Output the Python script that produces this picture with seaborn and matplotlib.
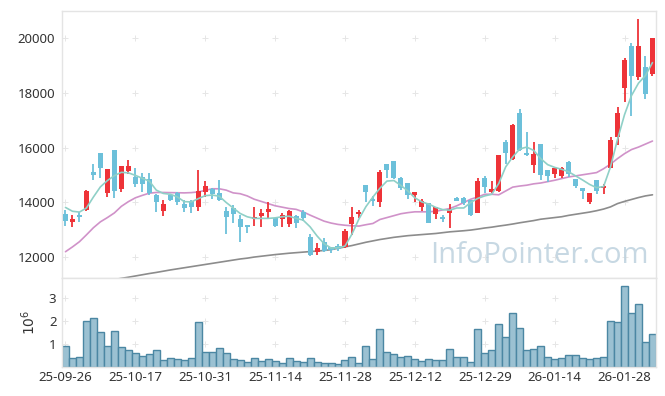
import numpy as np
import pandas as pd
import matplotlib
matplotlib.use("Agg")
import matplotlib.pyplot as plt
import seaborn as sns

# daily OHLC (KRW)
opens = [13570, 13300, 13540, 13720, 15100, 15790, 14350, 15900, 14480, 15160,
         14930, 14930, 14870, 14270, 13680, 14270, 14350, 13940, 14050, 13840,
         14390, 14485, 14330, 13690, 13790, 13400, 13175, 13380, 13500, 13650,
         13420, 13405, 13210, 13500, 13660, 12730, 12205, 12555, 12390, 12410,
         12390, 13210, 13575, 14630, 14120, 14000, 15395, 15500, 14910, 14700,
         14265, 13840, 13990, 13565, 13470, 13600, 14160, 14170, 14085, 13620,
         14910, 14365, 14420, 16205, 15600, 17260, 15805, 15357, 16130, 15175,
         15055, 14970, 15465, 14840, 14545, 14020, 14810, 14510, 15270, 16385,
         18170, 19720, 18570, 18955, 18690]
highs = [13720, 13540, 13660, 14450, 15420, 15790, 15210, 15900, 15330, 15560,
         15240, 15070, 15070, 14300, 14080, 14290, 14390, 14080, 14080, 15200,
         14775, 14545, 14810, 13850, 13900, 13540, 13190, 13840, 13745, 14010,
         13430, 13600, 13720, 13540, 13720, 12850, 12510, 12710, 12390, 12500,
         13020, 13840, 13720, 14630, 14230, 15175, 15420, 15500, 14930, 14725,
         14365, 14145, 13990, 13840, 13540, 13950, 14200, 14205, 14085, 14875,
         14955, 14785, 15720, 16290, 16870, 17420, 16570, 16205, 16145, 15175,
         15290, 15290, 15500, 14840, 14545, 14350, 14810, 14690, 16385, 17475,
         19260, 19800, 20690, 19355, 20000]
lows = [13140, 13110, 13300, 13700, 14810, 14910, 14200, 14150, 14380, 15050,
        14570, 14370, 14270, 13640, 13500, 14050, 13900, 13640, 13600, 13690,
        14200, 14110, 14050, 12840, 13270, 12565, 12870, 13140, 13110, 13380,
        13120, 13090, 13110, 13055, 13330, 12060, 12085, 12180, 12150, 12230,
        12330, 12810, 13420, 14000, 13865, 13840, 14875, 14850, 14450, 14110,
        14020, 13695, 13260, 13380, 13300, 13055, 14040, 13900, 13520, 13600,
        14350, 14330, 14380, 15395, 15540, 15880, 15700, 15075, 14837, 14750,
        14875, 14875, 14930, 14510, 14110, 13940, 14325, 14325, 15240, 16085,
        17660, 17140, 18450, 17780, 18615]
closes = [13330, 13390, 13480, 14410, 15010, 15260, 15210, 14420, 15330, 15330,
          14670, 14680, 14330, 14020, 13930, 14085, 14020, 13805, 13840, 14410,
          14600, 14300, 14085, 13470, 13590, 13115, 13115, 13455, 13620, 13770,
          13150, 13540, 13695, 13260, 13420, 12085, 12330, 12240, 12265, 12290,
          12970, 13455, 13660, 14385, 14050, 15115, 15175, 14895, 14510, 14290,
          14365, 14050, 13260, 13820, 13380, 13780, 14060, 13965, 13540, 14785,
          14570, 14485, 15720, 15805, 16810, 15930, 15730, 15757, 14995, 14970,
          15270, 15270, 15055, 14605, 14410, 14350, 14420, 14590, 16265, 17270,
          19200, 18605, 19720, 17965, 20000]

# moving averages
ma_short = [13820, 13680, 13650, 13800, 14200, 14570, 14800, 14980, 15100, 15080,
            14990, 14880, 14780, 14450, 14330, 14300, 14205, 14030, 14020, 14140,
            14250, 14270, 14230, 14000, 13800, 13600, 13480, 13420, 13420, 13420,
            13440, 13480, 13500, 13420, 13360, 13115, 12780, 12500, 12340, 12350,
            12410, 12850, 13400, 13850, 14200, 14520, 14780, 14800, 14620, 14420,
            14170, 14020, 13940, 13820, 13740, 13720, 13800, 13800, 14000, 14150,
            14240, 14300, 14690, 15300, 15660, 15950, 16020, 15900, 15600, 15380,
            15280, 15210, 15120, 14970, 14820, 14660, 14540, 14580, 15300, 16300,
            17200, 17900, 18350, 18630, 19100]
ma_mid = [12205, 12380, 12570, 12820, 13080, 13295, 13450, 13620, 13860, 14030,
          14170, 14260, 14340, 14365, 14365, 14360, 14355, 14350, 14360, 14385,
          14440, 14500, 14500, 14450, 14350, 14320, 14240, 14120, 14040, 13960,
          13880, 13830, 13780, 13750, 13660, 13540, 13430, 13320, 13250, 13200,
          13170, 13150, 13140, 13190, 13235, 13380, 13450, 13520, 13590, 13630,
          13660, 13660, 13660, 13680, 13730, 13780, 13880, 14000, 14120, 14200,
          14300, 14300, 14280, 14420, 14560, 14600, 14630, 14680, 14710, 14760,
          14810, 14870, 14930, 14970, 15010, 15050, 15090, 15230, 15400, 15600,
          15780, 15930, 16020, 16130, 16240]
ma_long = [np.nan] * 7 + [
           11190, 11235, 11275, 11320, 11365, 11410, 11450, 11495, 11540, 11580,
           11620, 11660, 11700, 11740, 11780, 11820, 11860, 11900, 11940, 11970,
           12010, 12040, 12070, 12100, 12125, 12150, 12170, 12190, 12210, 12230,
           12250, 12280, 12330, 12380, 12430, 12490, 12550, 12600, 12650, 12690,
           12730, 12760, 12790, 12810, 12830, 12850, 12870, 12900, 12930, 12950,
           12970, 12995, 13030, 13070, 13100, 13140, 13175, 13215, 13260, 13300,
           13340, 13390, 13420, 13450, 13480, 13530, 13570, 13610, 13650, 13700,
           13760, 13840, 13960, 14040, 14110, 14180, 14240, 14280]

# volume in millions of shares
volume = [0.90, 0.38, 0.42, 2.00, 2.13, 1.52, 0.90, 1.56, 0.86, 0.74,
          0.60, 0.48, 0.57, 0.73, 0.31, 0.38, 0.34, 0.31, 0.38, 1.95,
          0.64, 0.64, 0.82, 0.60, 0.34, 0.30, 0.22, 0.38, 0.28, 0.34,
          0.28, 0.16, 0.38, 0.28, 0.22, 0.38, 0.21, 0.16, 0.16, 0.12,
          0.31, 0.42, 0.16, 0.90, 0.34, 1.65, 0.64, 0.55, 0.42, 0.47,
          0.34, 0.25, 0.34, 0.30, 0.30, 0.77, 0.42, 0.42, 0.21, 1.65,
          0.60, 0.73, 1.86, 1.30, 2.34, 1.69, 0.73, 0.77, 0.90, 0.42,
          0.34, 0.38, 0.51, 0.51, 0.38, 0.34, 0.38, 0.42, 2.00, 1.95,
          3.54, 2.34, 2.74, 1.08, 1.43]

# trading days (KRX calendar)
holidays = ["2025-10-03", "2025-10-06", "2025-10-07", "2025-10-08", "2025-10-09",
            "2025-12-25", "2025-12-31", "2026-01-01"]
dates = [d for d in pd.bdate_range("2025-09-26", "2026-02-03")
         if d.strftime("%Y-%m-%d") not in holidays]
date_labels = [d.strftime("%y-%m-%d") for d in dates]

RED = "#ee3338"
BLUE = "#6cc0da"
FRAME = "#e4e4e4"
TEXT = "#333333"

sns.set_theme(style="white")
plt.rcParams["font.family"] = ["Noto Sans", "DejaVu Sans"]

df = pd.DataFrame({"i": np.arange(len(opens)), "open": opens, "high": highs,
                   "low": lows, "close": closes, "vol": volume,
                   "ma5": ma_short, "ma20": ma_mid, "ma60": ma_long})
df["up"] = df["close"] >= df["open"]
colors = np.where(df["up"], RED, BLUE)

fig = plt.figure(figsize=(6.65, 3.96), dpi=100)
ax = fig.add_axes([0.0932, 0.298, 0.8932, 0.675])
axv = fig.add_axes([0.0932, 0.0732, 0.8932, 0.2247], sharex=ax)

# candles
body = (df["close"] - df["open"]).abs().clip(lower=25)
bottom = df[["open", "close"]].min(axis=1)
ax.vlines(df["i"], df["low"], df["high"], colors=colors, lw=1.3, zorder=3)
ax.bar(df["i"], body, bottom=bottom, width=0.72, color=colors, linewidth=0, zorder=4)

# moving averages
sns.lineplot(data=df, x="i", y="ma60", ax=ax, color="#8c8c8c", lw=1.2, zorder=2)
sns.lineplot(data=df, x="i", y="ma20", ax=ax, color="#d092c9", lw=1.2, zorder=2)
sns.lineplot(data=df, x="i", y="ma5", ax=ax, color="#8fd0c7", lw=1.2, zorder=5)

# volume
sns.barplot(data=df, x="i", y="vol", native_scale=True, width=1.0, ax=axv,
            color="#9bc1d2", edgecolor="#4b87a3", linewidth=1.0, saturation=1)

xt = np.arange(0, len(opens), 10)
ax.set_xlim(-0.5, len(opens) - 0.5)
ax.set_ylim(11247, 20993)
axv.set_ylim(0, 3.89)

yt = [12000, 14000, 16000, 18000, 20000]
ax.set_yticks(yt)
ax.set_yticklabels([str(v) for v in yt])
axv.set_yticks([1, 2, 3])
axv.set_yticklabels(["1", "2", "3"])
axv.set_xticks(xt)
axv.set_xticklabels([date_labels[k] for k in xt])
ax.tick_params(axis="x", labelbottom=False, length=0)
ax.tick_params(axis="y", length=0, pad=5, labelsize=9.5, labelcolor=TEXT)
axv.tick_params(length=0, pad=4, labelsize=9.5, labelcolor=TEXT)
axv.tick_params(axis="x", pad=3)

ax.set_xlabel("")
ax.set_ylabel("")
axv.set_xlabel("")
axv.set_ylabel(r"$10^6$", fontsize=10, color=TEXT, labelpad=7)

# "+" grid markers at tick intersections, kept behind the marks
for a, ys in ((ax, yt), (axv, [1, 2, 3])):
    gx, gy = np.meshgrid(xt, ys)
    a.plot(gx.ravel(), gy.ravel(), ls="none", marker="+", ms=4, mew=0.7,
           color="#e6e6e6", zorder=0.5)
    for s in a.spines.values():
        s.set_color(FRAME)
        s.set_linewidth(1.0)

ax.text(0.987, 0.03, "InfoPointer.com", transform=ax.transAxes, ha="right",
        va="bottom", fontsize=21, color="#b9cfdc", alpha=0.8, zorder=6,
        family=["Open Sans", "DejaVu Sans"])

fig.savefig("out.png", dpi=100)
